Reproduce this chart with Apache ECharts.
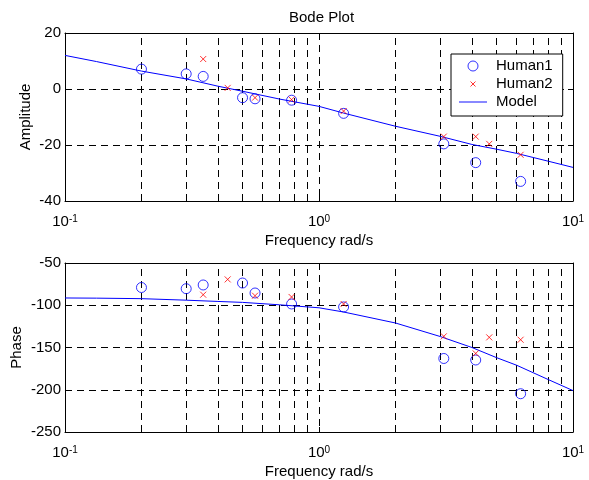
<!DOCTYPE html>
<html>
<head>
<meta charset="utf-8">
<script src="https://cdn.jsdelivr.net/npm/echarts@6/dist/echarts.min.js"></script>
<style>html,body{margin:0;padding:0;background:#fff}#c{width:589px;height:480px}</style>
</head>
<body>
<div id="c"></div>
<script>
// ---- data ----
const freqH1 = [0.2, 0.3, 0.35, 0.5, 0.56, 0.78, 1.25, 3.1, 4.14, 6.22];
const ampH1 = [7.1, 5.4, 4.5, -3.1, -3.5, -4.0, -8.7, -19.6, -26.3, -33];
const phaseH1 = [-79, -80.4, -76, -73.7, -85.5, -98.5, -102, -163, -164.8, -204.7];

const freqH2 = [0.35, 0.437, 0.56, 0.78, 1.25, 3.1, 4.14, 4.68, 6.22];
const ampH2 = [10.7, 0.4, -3.1, -3.8, -7.9, -17, -17, -19.6, -23.5];
const phaseH2 = [-87.5, -69.4, -88.7, -90.2, -98.5, -136.8, -157, -138, -140.8];

const freqModel = [0.1, 0.133, 0.2, 0.3, 0.4, 0.5, 0.7, 1, 1.25, 2, 3, 4, 5, 6, 8, 10];
const ampModel = [12, 9.8, 6.4, 3.6, 1.0, -0.8, -3.6, -6.2, -8.6, -13.3, -16.9, -19.8, -21.5, -23, -25.8, -28];
const phaseModel = [-91.4, -91.6, -92.2, -94, -95.5, -96.6, -99.5, -103, -108, -121, -137, -150, -162, -171, -188, -201];

const minorGridX = [0.2, 0.3, 0.4, 0.5, 0.6, 0.7, 0.8, 0.9, 2, 3, 4, 5, 6, 7, 8, 9];
const ampTicks = {min: -40, max: 20, interval: 20};
const phaseTicks = {min: -250, max: -50, interval: 50};

const zip = (a, b) => a.map((v, i) => [v, b[i]]);

const FONT = 'Liberation Sans';
const BLUE = '#0000ff', RED = '#ff0000';
const dash = [7, 5];
const crossPath = 'path://M0,0L10,10M10,0L0,10';

function xAxisFor(gi) {
  return {
    type: 'log', logBase: 10, min: 0.1, max: 10, gridIndex: gi,
    name: 'Frequency rad/s', nameLocation: 'middle', nameGap: 32, nameMoveOverlap: false,
    nameTextStyle: {color: '#000', fontFamily: FONT, fontSize: 15},
    axisLine: {show: true, onZero: false, lineStyle: {color: '#000', width: 1}},
    axisTick: {show: true, inside: true, length: 5, lineStyle: {color: '#000'}},
    splitLine: {show: true, lineStyle: {color: '#000', type: dash, width: 1}},
    axisLabel: {
      margin: 13,
      formatter: v => '{b|10}{s|' + Math.round(Math.log10(v)) + '}',
      rich: {
        b: {fontFamily: FONT, fontSize: 15, lineHeight: 15, color: '#000', verticalAlign: 'bottom', padding: [6.5, 0, 0, 0]},
        s: {fontFamily: FONT, fontSize: 10, lineHeight: 10, color: '#000', verticalAlign: 'top'}
      }
    }
  };
}
function xAxisTop(gi) {
  return {
    type: 'log', logBase: 10, min: 0.1, max: 10, gridIndex: gi, position: 'top',
    axisLine: {show: true, onZero: false, lineStyle: {color: '#000'}},
    axisTick: {show: true, inside: true, length: 5, lineStyle: {color: '#000'}},
    axisLabel: {show: false}, splitLine: {show: false}
  };
}
function yAxisFor(gi, t, name, gap) {
  return {
    type: 'value', gridIndex: gi, min: t.min, max: t.max, interval: t.interval,
    name: name, nameLocation: 'middle', nameGap: gap, nameMoveOverlap: false,
    nameTextStyle: {color: '#000', fontFamily: FONT, fontSize: 15},
    axisLine: {show: true, onZero: false, lineStyle: {color: '#000'}},
    axisTick: {show: true, inside: true, length: 5, lineStyle: {color: '#000'}},
    splitLine: {show: true, lineStyle: {color: '#000', type: dash, width: 1}},
    axisLabel: {color: '#000', fontFamily: FONT, fontSize: 15, margin: 4}
  };
}
function yAxisRight(gi, t) {
  return {
    type: 'value', gridIndex: gi, min: t.min, max: t.max, interval: t.interval, position: 'right',
    axisLine: {show: true, onZero: false, lineStyle: {color: '#000'}},
    axisTick: {show: true, inside: true, length: 5, lineStyle: {color: '#000'}},
    axisLabel: {show: false}, splitLine: {show: false}
  };
}
function seriesFor(gi, h1, h2, model) {
  return [
    {
      name: 'Human1', type: 'scatter', xAxisIndex: gi * 2, yAxisIndex: gi * 2,
      data: zip(freqH1, h1), symbol: 'circle', symbolSize: 10,
      itemStyle: {color: 'rgba(0,0,0,0)', borderColor: BLUE, borderWidth: 1}, z: 5
    },
    {
      name: 'Human2', type: 'scatter', xAxisIndex: gi * 2, yAxisIndex: gi * 2,
      data: zip(freqH2, h2), symbol: crossPath, symbolSize: 6,
      itemStyle: {color: 'rgba(0,0,0,0)', borderColor: RED, borderWidth: 1}, z: 5
    },
    {
      name: 'Model', type: 'line', xAxisIndex: gi * 2, yAxisIndex: gi * 2,
      data: zip(freqModel, model), symbol: 'none', smooth: false,
      lineStyle: {color: BLUE, width: 1}, itemStyle: {color: BLUE}, z: 4,
      markLine: {
        silent: true, symbol: 'none', animation: false, z: 1,
        label: {show: false},
        lineStyle: {color: '#000', type: dash, width: 1},
        data: minorGridX.map(v => ({xAxis: v}))
      }
    }
  ];
}

const chart = echarts.init(document.getElementById('c'), null, {renderer: 'canvas'});
chart.setOption({
  animation: false,
  backgroundColor: '#fff',
  title: {
    text: 'Bode Plot', left: 289, top: 10, padding: 0,
    textStyle: {fontFamily: FONT, fontSize: 15, fontWeight: 'normal', color: '#000'}
  },
  legend: {
    left: 451, top: 54, orient: 'vertical',
    padding: [4.5, 10, 6.5, 8], itemGap: 3, itemWidth: 28, itemHeight: 10,
    backgroundColor: '#fff', borderColor: '#000', borderWidth: 1,
    textStyle: {fontFamily: FONT, fontSize: 15, lineHeight: 15, color: '#000', padding: [0, 0, 0, 4]},
    data: [
      {name: 'Human1', icon: 'circle', itemStyle: {color: 'rgba(0,0,0,0)', borderColor: BLUE, borderWidth: 1}},
      {name: 'Human2', icon: 'path://M0,0M3,3L9,9M9,3L3,9M12,12', itemStyle: {color: 'rgba(0,0,0,0)', borderColor: RED, borderWidth: 1}},
      {name: 'Model', icon: 'path://M0,0L30,0L30,1L0,1Z', itemStyle: {color: BLUE, borderWidth: 0}}
    ]
  },
  grid: [
    {left: 65, top: 33, width: 508, height: 168, show: false},
    {left: 65, top: 263, width: 508, height: 169, show: false}
  ],
  xAxis: [xAxisFor(0), xAxisTop(0), xAxisFor(1), xAxisTop(1)],
  yAxis: [
    yAxisFor(0, ampTicks, 'Amplitude', 32), yAxisRight(0, ampTicks),
    yAxisFor(1, phaseTicks, 'Phase', 41), yAxisRight(1, phaseTicks)
  ],
  series: [].concat(seriesFor(0, ampH1, ampH2, ampModel), seriesFor(1, phaseH1, phaseH2, phaseModel))
});
</script>
</body>
</html>
